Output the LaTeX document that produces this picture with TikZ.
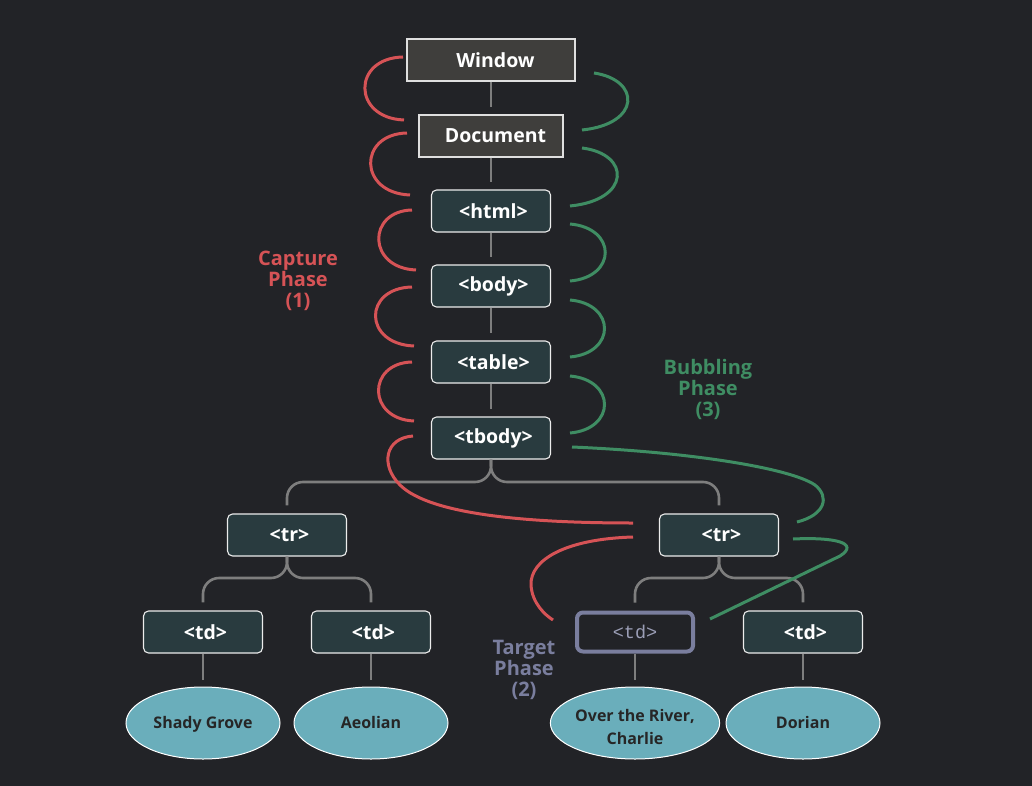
\documentclass[tikz,border=0pt]{standalone}
\usepackage{fontspec}
\usetikzlibrary{shapes.geometric}
\setmainfont{Open Sans}
\newfontfamily\codefont{Liberation Mono}
% centred lines of leaf text, lowered by #1 inside the ellipse
\newcommand\leaflines[2]{\smash{\raisebox{#1}{\begin{tabular}{@{}c@{}}#2\end{tabular}}}}
\begin{document}
\definecolor{bg}{HTML}{222327}
\definecolor{boxgray}{HTML}{3F3E3C}
\definecolor{boxteal}{HTML}{293B3F}
\definecolor{leafblue}{HTML}{6AAEBB}
\definecolor{capred}{HTML}{D65356}
\definecolor{bubgreen}{HTML}{3F8D63}
\definecolor{targetslate}{HTML}{7A7E9E}
\definecolor{linkgray}{HTML}{7E7E7E}
\begin{tikzpicture}[x=1pt,y=-1pt,
  winbox/.style={draw=white!75!gray, line width=1.2pt, fill=boxgray, text=white,
    font=\fontsize{19.5}{22}\selectfont\bfseries, minimum height=42pt, inner sep=0pt,
    execute at begin node=\hspace*{9pt}},
  tagbox/.style={draw=white!85!gray, line width=1.1pt, fill=boxteal, rounded corners=5pt,
    text=white, font=\fontsize{19.5}{22}\selectfont\bfseries,
    minimum width=119pt, minimum height=42pt, inner sep=0pt,
    execute at begin node=\hspace*{5pt}},
  targetbox/.style={draw=targetslate, line width=4pt, fill=bg, rounded corners=6pt,
    text=targetslate!75!white, font=\codefont\fontsize{18.5}{22}\selectfont,
    minimum width=116pt, minimum height=39pt, inner sep=0pt},
  leaf/.style={ellipse, draw=white, line width=1pt, fill=leafblue, text=black!85,
    font=\fontsize{16}{23}\selectfont\bfseries,
    minimum width=154pt, minimum height=72pt, inner sep=0pt},
  link/.style={draw=linkgray, line width=2.6pt},
  stacklink/.style={link, shorten >=7pt},
  treelink/.style={link, rounded corners=16pt, shorten >=8pt},
  capture/.style={draw=capred, line width=3pt},
  bubble/.style={draw=bubgreen, line width=3pt},
  phase/.style={font=\fontsize{20}{21}\selectfont\bfseries, align=center}
]
\useasboundingbox[fill=bg] (0,0) rectangle (1032,786);

% ---- element tree ----
\node[winbox, minimum width=168pt] (window) at (491,60) {Window};
\node[winbox, minimum width=144pt] (document) at (491,136) {Document};
\node[tagbox] (html)  at (491,211) {<html>};
\node[tagbox] (body)  at (491,286) {<body>};
\node[tagbox] (table) at (491,362) {<table>};
\node[tagbox] (tbody) at (491,438) {<tbody>};
\node[tagbox] (trA) at (287,535) {<tr>};
\node[tagbox] (trB) at (719,535) {<tr>};
\node[tagbox] (tdA) at (203,632) {<td>};
\node[tagbox] (tdB) at (371,632) {<td>};
\node[targetbox] (tdC) at (635,632) {<td>};
\node[tagbox] (tdD) at (803,632) {<td>};
\node[leaf] (leafA) at (203,723) {\leaflines{-5.5pt}{Shady Grove}};
\node[leaf] (leafB) at (371,723) {\leaflines{-5.5pt}{Aeolian}};
\node[leaf] (leafC) at (635,723) {\leaflines{-9.5pt}{Over the River,\\Charlie}};
\node[leaf] (leafD) at (803,723) {\leaflines{-5.5pt}{Dorian}};

% straight parent/child links
\draw[stacklink] (window) -- (document);
\draw[stacklink] (document) -- (html);
\draw[stacklink] (html) -- (body);
\draw[stacklink] (body) -- (table);
\draw[stacklink] (table) -- (tbody);
\foreach \a/\b in {tdA/leafA, tdB/leafB, tdC/leafC, tdD/leafD}
  \draw[link, shorten >=7pt] (\a) -- (\b);

% forked links
\draw[treelink] (tbody.south) -- (tbody.south |- 0,482) -- (trA.north |- 0,482) -- (trA.north);
\draw[treelink] (tbody.south) -- (tbody.south |- 0,482) -- (trB.north |- 0,482) -- (trB.north);
\draw[treelink] (trA.south) -- (trA.south |- 0,578) -- (tdA.north |- 0,578) -- (tdA.north);
\draw[treelink] (trA.south) -- (trA.south |- 0,578) -- (tdB.north |- 0,578) -- (tdB.north);
\draw[treelink] (trB.south) -- (trB.south |- 0,578) -- (tdC.north |- 0,578) -- (tdC.north);
\draw[treelink] (trB.south) -- (trB.south |- 0,578) -- (tdD.north |- 0,578) -- (tdD.north);

% ---- capture phase arcs ----
\coordinate (c1a) at (403,57);  \coordinate (c1b) at (404,120);
\coordinate (c2a) at (407,133); \coordinate (c2b) at (410,195);
\coordinate (c3a) at (412,210); \coordinate (c3b) at (416,270);
\coordinate (c4a) at (412,287); \coordinate (c4b) at (414,346);
\coordinate (c5a) at (412,362); \coordinate (c5b) at (414,421);
\draw[capture] (c1a) .. controls (352,58) and (352,118) .. (c1b);
\draw[capture] (c2a) .. controls (358,134) and (358,193) .. (c2b);
\draw[capture] (c3a) .. controls (367,211) and (367,268) .. (c3b);
\draw[capture] (c4a) .. controls (363,288) and (363,344) .. (c4b);
\draw[capture] (c5a) .. controls (367,363) and (367,419) .. (c5b);
\coordinate (c6a) at (413,436); \coordinate (c6b) at (633,523);
\draw[capture] (c6a) .. controls (385,438) and (380,465) .. (400,485)
  .. controls (430,515) and (530,523) .. (c6b);
\coordinate (c7a) at (633,537); \coordinate (c7b) at (553,620);
\draw[capture] (c7a) .. controls (565,539) and (530,560) .. (531,585)
  .. controls (532,603) and (545,615) .. (c7b);

% ---- bubbling phase arcs ----
\coordinate (b1a) at (594,73);  \coordinate (b1b) at (582,130);
\coordinate (b2a) at (582,148); \coordinate (b2b) at (570,206);
\coordinate (b3a) at (570,224); \coordinate (b3b) at (570,281);
\coordinate (b4a) at (570,300); \coordinate (b4b) at (570,357);
\coordinate (b5a) at (570,376); \coordinate (b5b) at (570,433);
\draw[bubble] (b1a) .. controls (641,80) and (641,124) .. (b1b);
\draw[bubble] (b2a) .. controls (631,154) and (631,200) .. (b2b);
\draw[bubble] (b3a) .. controls (617,228) and (617,277) .. (b3b);
\draw[bubble] (b4a) .. controls (616,304) and (616,353) .. (b4b);
\draw[bubble] (b5a) .. controls (616,380) and (616,429) .. (b5b);
\coordinate (b6a) at (572,447); \coordinate (b6b) at (797,522);
\draw[bubble] (b6a) .. controls (690,452) and (790,468) .. (815,485)
  .. controls (830,497) and (825,515) .. (b6b);
\coordinate (b7a) at (793,539); \coordinate (b7b) at (710,619);
\draw[bubble] (b7a) .. controls (835,537) and (860,543) .. (840,556) -- (b7b);

% ---- phase labels ----
\node[phase, text=capred] (capLabel) at (298,281) {Capture\\Phase\\(1)};
\node[phase, text=bubgreen] (bubLabel) at (708,389) {Bubbling\\Phase\\(3)};
\node[phase, text=targetslate] (tgtLabel) at (524,670) {Target\\Phase\\(2)};
\end{tikzpicture}
\end{document}
